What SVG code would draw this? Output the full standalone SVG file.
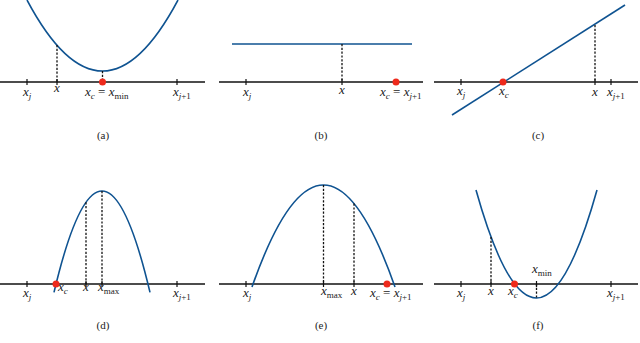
<svg xmlns="http://www.w3.org/2000/svg" width="640" height="343" viewBox="0 0 640 343">
<style>
.axis{stroke:#111;stroke-width:1.4;fill:none}
.tick{stroke:#111;stroke-width:1.2}
.curve{stroke:#0f5391;stroke-width:1.6;fill:none}
.dash{stroke:#111;stroke-width:1.3;stroke-dasharray:2.2 1.6;fill:none}
.dot{fill:#ee2a1c}
text{font-family:"Liberation Serif","Times New Roman",serif;fill:#222}
.lb{font-size:13px;font-style:italic}
.up{font-style:normal}
.sub{font-size:9px}
.cap{font-size:11px}
</style>
<rect width="640" height="343" fill="#fff"/>
<g id="panel-a">
  <line class="axis" x1="0" y1="82" x2="205" y2="82"/>
  <g class="tick"><line x1="27" y1="79" x2="27" y2="85"/><line x1="57" y1="79" x2="57" y2="85"/><line x1="102.5" y1="79" x2="102.5" y2="85"/><line x1="177" y1="79" x2="177" y2="85"/></g>
  <path class="curve" d="M27,0 Q102.5,142 178,0"/>
  <line class="dash" x1="57" y1="45" x2="57" y2="82"/>
  <line class="dash" x1="102.5" y1="71" x2="102.5" y2="82"/>
  <circle class="dot" cx="102.5" cy="82" r="3.5"/>
  <text class="lb" x="23" y="95.5">x<tspan class="sub" dy="3">j</tspan></text>
  <text class="lb" x="57" y="92" text-anchor="middle">x</text>
  <text class="lb" x="85" y="95.5">x<tspan class="sub" dy="3">c</tspan><tspan class="up" dy="-3"> = </tspan>x<tspan class="sub up" dy="3">min</tspan></text>
  <text class="lb" x="173" y="95.5">x<tspan class="sub" dy="3">j</tspan><tspan class="sub up">+1</tspan></text>
  <text class="cap" x="103" y="139" text-anchor="middle">(a)</text>
</g>
<g id="panel-b">
  <line class="axis" x1="219" y1="82" x2="423" y2="82"/>
  <g class="tick"><line x1="246" y1="79" x2="246" y2="85"/><line x1="342" y1="79" x2="342" y2="85"/><line x1="396" y1="79" x2="396" y2="85"/></g>
  <line class="curve" x1="232" y1="44" x2="412" y2="44"/>
  <line class="dash" x1="342" y1="44" x2="342" y2="82"/>
  <circle class="dot" cx="396" cy="82" r="3.5"/>
  <text class="lb" x="243" y="95.5">x<tspan class="sub" dy="3">j</tspan></text>
  <text class="lb" x="342" y="94" text-anchor="middle">x</text>
  <text class="lb" x="380" y="96">x<tspan class="sub" dy="3">c</tspan><tspan class="up" dy="-3"> = </tspan>x<tspan class="sub" dy="3">j</tspan><tspan class="sub up">+1</tspan></text>
  <text class="cap" x="321" y="139" text-anchor="middle">(b)</text>
</g>
<g id="panel-c">
  <line class="axis" x1="434" y1="82" x2="638" y2="82"/>
  <g class="tick"><line x1="461" y1="79" x2="461" y2="85"/><line x1="503" y1="79" x2="503" y2="85"/><line x1="595" y1="79" x2="595" y2="85"/><line x1="611" y1="79" x2="611" y2="85"/></g>
  <line class="curve" x1="452" y1="115" x2="625" y2="5"/>
  <line class="dash" x1="595" y1="25" x2="595" y2="82"/>
  <circle class="dot" cx="503" cy="82" r="3.5"/>
  <text class="lb" x="457" y="94.5">x<tspan class="sub" dy="3">j</tspan></text>
  <text class="lb" x="499" y="94.5">x<tspan class="sub" dy="3">c</tspan></text>
  <text class="lb" x="595" y="96" text-anchor="middle">x</text>
  <text class="lb" x="607" y="96">x<tspan class="sub" dy="3">j</tspan><tspan class="sub up">+1</tspan></text>
  <text class="cap" x="538" y="139" text-anchor="middle">(c)</text>
</g>
<g id="panel-d">
  <line class="axis" x1="0" y1="284" x2="205" y2="284"/>
  <g class="tick"><line x1="27" y1="281" x2="27" y2="287"/><line x1="86" y1="281" x2="86" y2="287"/><line x1="102" y1="281" x2="102" y2="287"/><line x1="177" y1="281" x2="177" y2="287"/></g>
  <path class="curve" d="M54,292.4 Q102,89.6 150,292.4"/>
  <line class="dash" x1="86" y1="202.3" x2="86" y2="284"/>
  <line class="dash" x1="102" y1="191" x2="102" y2="284"/>
  <circle class="dot" cx="56" cy="284" r="3.5"/>
  <text class="lb" x="23" y="297">x<tspan class="sub" dy="3">j</tspan></text>
  <text class="lb" x="58" y="291">x<tspan class="sub" dy="3">c</tspan></text>
  <text class="lb" x="86" y="291" text-anchor="middle">x</text>
  <text class="lb" x="98" y="291">x<tspan class="sub up" dy="3">max</tspan></text>
  <text class="lb" x="173" y="297">x<tspan class="sub" dy="3">j</tspan><tspan class="sub up">+1</tspan></text>
  <text class="cap" x="103" y="329" text-anchor="middle">(d)</text>
</g>
<g id="panel-e">
  <line class="axis" x1="219" y1="284" x2="423" y2="284"/>
  <g class="tick"><line x1="246" y1="281" x2="246" y2="287"/><line x1="323.5" y1="281" x2="323.5" y2="287"/><line x1="354" y1="281" x2="354" y2="287"/><line x1="387" y1="281" x2="387" y2="287"/></g>
  <path class="curve" d="M252,287 Q323.5,83 395,287"/>
  <line class="dash" x1="323.5" y1="185" x2="323.5" y2="284"/>
  <line class="dash" x1="354" y1="203.6" x2="354" y2="284"/>
  <circle class="dot" cx="387" cy="284" r="3.5"/>
  <text class="lb" x="243" y="296.5">x<tspan class="sub" dy="3">j</tspan></text>
  <text class="lb" x="321" y="294.5">x<tspan class="sub up" dy="3">max</tspan></text>
  <text class="lb" x="354" y="294.5" text-anchor="middle">x</text>
  <text class="lb" x="370" y="297">x<tspan class="sub" dy="3">c</tspan><tspan class="up" dy="-3"> = </tspan>x<tspan class="sub" dy="3">j</tspan><tspan class="sub up">+1</tspan></text>
  <text class="cap" x="321" y="329" text-anchor="middle">(e)</text>
</g>
<g id="panel-f">
  <line class="axis" x1="434" y1="284" x2="638" y2="284"/>
  <g class="tick"><line x1="461" y1="281" x2="461" y2="287"/><line x1="491" y1="281" x2="491" y2="287"/><line x1="536.5" y1="281" x2="536.5" y2="287"/><line x1="611" y1="281" x2="611" y2="287"/></g>
  <path class="curve" d="M476,190 Q536.5,406 597,190"/>
  <line class="dash" x1="491" y1="237" x2="491" y2="284"/>
  <line class="dash" x1="536.5" y1="284" x2="536.5" y2="298"/>
  <circle class="dot" cx="514.5" cy="284" r="3.5"/>
  <text class="lb" x="457" y="296.5">x<tspan class="sub" dy="3">j</tspan></text>
  <text class="lb" x="491" y="294.5" text-anchor="middle">x</text>
  <text class="lb" x="508" y="294.5">x<tspan class="sub" dy="3">c</tspan></text>
  <text class="lb" x="532" y="273">x<tspan class="sub up" dy="3">min</tspan></text>
  <text class="lb" x="607" y="296.5">x<tspan class="sub" dy="3">j</tspan><tspan class="sub up">+1</tspan></text>
  <text class="cap" x="538" y="329" text-anchor="middle">(f)</text>
</g>
</svg>
